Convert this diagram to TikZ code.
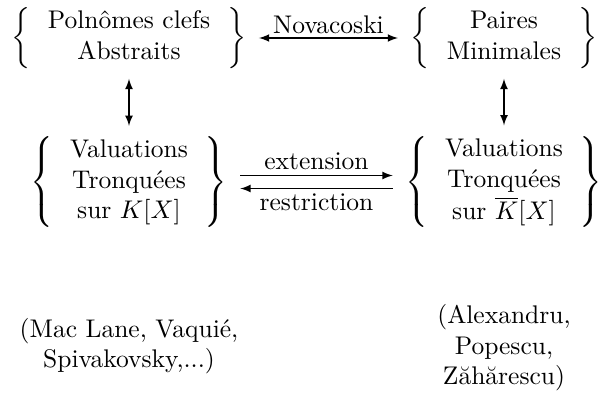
\documentclass[tikz,border=0pt]{standalone}
\usepackage{amsmath}
\usepackage{amssymb}
\usepackage{tikz}
\usetikzlibrary{arrows}

\begin{document}
\begin{tikzpicture}[x=0.392pt,y=-0.392pt,>=latex,
	bloc/.style={inner sep=0pt, outer xsep=5pt, outer ysep=4pt},
	auteurs/.style={align=center, inner sep=0pt}]
	%Define the columns and the rows
	%column \gx for K[X], column \dx for \overline{K}[X]
	\pgfmathsetmacro{\gx}{129}
	\pgfmathsetmacro{\dx}{504}
	\pgfmathsetmacro{\ya}{38}
	\pgfmathsetmacro{\yb}{182}
	
	\useasboundingbox (0,0) rectangle (600,394);
	
	%The four sets
	\node[bloc] (abstraits) at (\gx,\ya) {$\left\{\,\begin{array}{c}\text{Polnômes clefs}\\ \text{Abstraits}\end{array}\,\right\}$};
	\node[bloc] (paires) at (\dx,\ya) {$\left\{\,\begin{array}{c}\text{Paires}\\ \text{Minimales}\end{array}\,\right\}$};
	\node[bloc] (tronqK) at (\gx,\yb) {$\left\{\,\begin{array}{c}\text{Valuations}\\ \text{Tronquées}\\ \text{sur } K[X]\end{array}\,\right\}$};
	\node[bloc] (tronqKbar) at (\dx,\yb) {$\left\{\,\begin{array}{c}\text{Valuations}\\ \text{Tronquées}\\ \text{sur } \overline{K}[X]\end{array}\,\right\}$};
	
	%Top arrow
	\draw[<->] (abstraits) -- node[above, inner sep=1.5pt] (novacoski) {Novacoski} (paires);
	
	%Vertical arrows
	\draw[<->] (abstraits) -- (tronqK);
	\draw[<->] (paires) -- (tronqKbar);
	
	%Extension and restriction
	\draw[->] ([yshift=2.55pt]tronqK.east) -- node[above, inner sep=2pt] (extension) {extension} ([yshift=2.55pt]tronqKbar.west);
	\draw[->] ([yshift=-2.55pt]tronqKbar.west) -- node[below, inner sep=2pt] (restriction) {restriction} ([yshift=-2.55pt]tronqK.east);
	
	%The authors
	\node[auteurs] (auteursg) at (\gx,346) {(Mac Lane, Vaquié,\\ Spivakovsky,...)};
	\node[auteurs] (auteursd) at (\dx,348) {(Alexandru,\\ Popescu,\\ Zăhărescu)};

\end{tikzpicture}
\end{document}
